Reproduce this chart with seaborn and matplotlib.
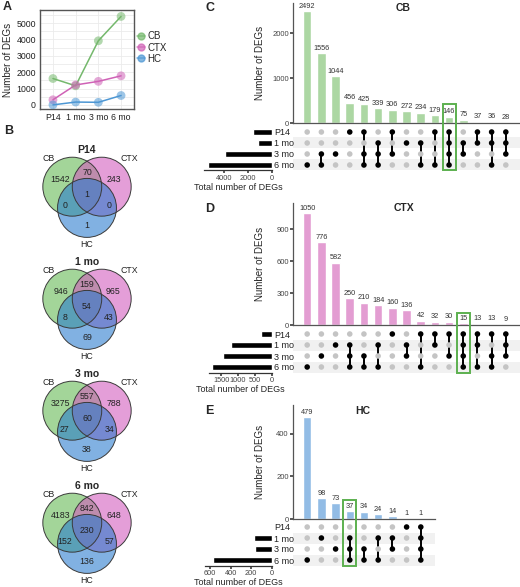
import numpy as np
import pandas as pd
import matplotlib
matplotlib.use("Agg")
import matplotlib.pyplot as plt
import seaborn as sns
from matplotlib.patches import Circle, Rectangle
from matplotlib.lines import Line2D

sns.set_theme(style="white")
plt.rcParams['font.family'] = ['Liberation Sans Narrow', 'Liberation Sans', 'DejaVu Sans']

W, H = 520, 587

# ---- data ----
ages = ["P14", "1 mo", "3 mo", "6 mo"]
regions = ["CB", "CTX", "HC"]
deg_cb = [1613, 1167, 3919, 5407]
deg_ctx = [314, 1221, 1439, 1777]
deg_hc = [2, 174, 159, 575]

# venn regions: CB only, CTX only, HC only, CB&CTX, CB&HC, CTX&HC, all three
venn_titles = ["P14", "1 mo", "3 mo", "6 mo"]
venn_p14 = [1542, 243, 1, 70, 0, 0, 1]
venn_1mo = [946, 965, 69, 159, 8, 43, 54]
venn_3mo = [3275, 788, 38, 557, 27, 34, 60]
venn_6mo = [4183, 648, 136, 842, 152, 57, 230]

# upset intersections (row index: 0=P14, 1=1 mo, 2=3 mo, 3=6 mo)
cb_sizes = [2492, 1556, 1044, 456, 425, 339, 306, 272, 234, 179, 146, 75, 37, 36, 28]
cb_sets = [(3,), (2, 3), (2,), (0,), (0, 2, 3), (1, 2, 3), (0, 2), (1,), (1, 3), (0, 3),
           (0, 1, 2, 3), (1, 2), (0, 1), (0, 1, 3), (0, 1, 2)]
ctx_sizes = [1050, 776, 582, 250, 210, 184, 160, 136, 42, 32, 30, 15, 13, 13, 9]
ctx_sets = [(3,), (2,), (1,), (1, 2, 3), (2, 3), (1, 3), (0,), (1, 2), (0, 3), (0, 1), (0, 2),
            (0, 1, 2, 3), (0, 1, 3), (0, 2, 3), (0, 1, 2)]
hc_sizes = [479, 98, 73, 37, 34, 24, 14, 1, 1]
hc_sets = [(3,), (1,), (2,), (1, 2, 3), (2, 3), (1, 3), (1, 2), (0,), (0, 1, 2, 3)]

line_colors = {"CB": "#74b86c", "CTX": "#cf62b6", "HC": "#4d97d4"}
venn_colors = ["#61b750", "#d258bc", "#267acd"]
bar_colors = {"CB": "#acd7a3", "CTX": "#e39dd2", "HC": "#92bce5"}
box_green = "#5cb04f"

fig = plt.figure(figsize=(W / 100, H / 100), dpi=100)


def axpx(x0, y0, x1, y1):
    return fig.add_axes([x0 / W, 1 - y1 / H, (x1 - x0) / W, (y1 - y0) / H])


def textpx(x, y, s, **kw):
    fig.text(x / W, 1 - y / H, s, **kw)


# ---- panel A ----
df = pd.DataFrame({
    "age": ages * 3,
    "n": deg_cb + deg_ctx + deg_hc,
    "region": ["CB"] * 4 + ["CTX"] * 4 + ["HC"] * 4,
})
axA = axpx(40, 10, 134, 109)
sns.lineplot(data=df, x="age", y="n", hue="region", palette=line_colors, sort=False,
             lw=1.1, legend=False, ax=axA)
sns.scatterplot(data=df, x="age", y="n", hue="region", palette=line_colors, s=40,
                alpha=0.55, edgecolor="none", legend=False, ax=axA, zorder=3)
axA.set_xlim(-0.57, 3.57)
axA.set_ylim(-250, 5800)
axA.set_yticks([0, 1000, 2000, 3000, 4000, 5000])
axA.set_yticks(np.arange(500, 5800, 1000), minor=True)
axA.grid(True, which="both", color="#ebebeb", lw=0.6)
axA.set_axisbelow(True)
axA.tick_params(labelsize=6.3, length=2, color="#333", pad=1, colors="#222")
axA.set_xlabel("")
axA.set_ylabel("Number of DEGs", fontsize=7, labelpad=2)
for sp in axA.spines.values():
    sp.set_color("#555")
    sp.set_linewidth(1)
handles = [Line2D([], [], color=line_colors[r], lw=1.1, marker="o", ms=5, alpha=0.7) for r in regions]
axA.legend(handles, regions, loc="center left", bbox_to_anchor=(0.98, 0.62), frameon=False,
           fontsize=7, handlelength=0.8, handletextpad=0.3, labelspacing=0.12, borderaxespad=0.1)

# ---- panel B: venns ----
centers = [(-0.5, 0.35), (0.5, 0.35), (0.0, -0.37)]
count_pos = [(-0.9, 0.6), (0.9, 0.6), (0.0, -0.95), (0.0, 0.82), (-0.75, -0.3), (0.75, -0.3), (0.0, 0.1)]
venn_cy = [197, 309, 421, 533]
for cy, title, counts in zip(venn_cy, venn_titles, [venn_p14, venn_1mo, venn_3mo, venn_6mo]):
    ax = axpx(34, cy - 56, 140, cy + 56)
    ax.set_xlim(-1.8, 1.8)
    ax.set_ylim(-1.9, 1.9)
    for (cx, cyy), col in zip(centers, venn_colors):
        ax.add_patch(Circle((cx, cyy), 1, fc=col, alpha=0.58, ec="none"))
    for cx, cyy in centers:
        ax.add_patch(Circle((cx, cyy), 1, fill=False, ec="#3a3a3a", lw=0.7))
    for v, (x, y) in zip(counts, count_pos):
        ax.text(x, y, str(v), ha="center", va="center", fontsize=6.3, color="#222")
    ax.text(0, 1.58, title, ha="center", va="center", fontsize=7.5, fontweight="bold")
    ax.text(-1.3, 1.32, "CB", ha="center", va="center", fontsize=6.3, color="#222")
    ax.text(1.45, 1.32, "CTX", ha="center", va="center", fontsize=6.3, color="#222")
    ax.text(0, -1.62, "HC", ha="center", va="center", fontsize=6.3, color="#222")
    ax.axis("off")


# ---- panels C, D, E: upset ----
def upset(sizes, sets, totals, color, box_col, bar_top, zero, x1, ytop, yticks,
          rows_top, rows_bot, ss_left, ss_max, ss_ticks, box_top, title, title_xy):
    n = len(sizes)
    axb = axpx(293, bar_top, x1, zero)
    sns.barplot(x=np.arange(n), y=sizes, color=color, width=0.6, ax=axb, saturation=1)
    axb.set_xlim(-1, n)
    axb.set_ylim(0, ytop)
    axb.set_xticks([])
    axb.set_yticks(yticks)
    axb.tick_params(axis="y", labelsize=5.5, length=2, pad=1, colors="#444", left=True)
    for i, v in enumerate(sizes):
        axb.text(i, v + ytop * 0.012, str(v), ha="center", va="bottom", fontsize=5.3, color="#333")
    for s in ["top", "right"]:
        axb.spines[s].set_visible(False)
    for s in ["left", "bottom"]:
        axb.spines[s].set_color("#555")
        axb.spines[s].set_linewidth(0.9)
    axb.set_xlabel("")
    axb.set_ylabel("Number of DEGs", fontsize=7)
    axb.yaxis.set_label_coords((265 - 293) / (x1 - 293), 0.5)

    # matrix
    axm = axpx(293, rows_top, x1, rows_bot)
    for r in (1, 3):
        axm.axhspan(r - 0.5, r + 0.5, color="#f1f1f1", zorder=0, lw=0)
    cells = pd.DataFrame([(i, r, r in s) for i, s in enumerate(sets) for r in range(4)],
                         columns=["col", "row", "member"])
    sns.scatterplot(data=cells, x="col", y="row", hue="member",
                    palette={True: "black", False: "#c4c4c4"}, s=16, edgecolor="none",
                    legend=False, ax=axm, zorder=3)
    for i, s in enumerate(sets):
        if len(s) > 1:
            axm.plot([i, i], [min(s), max(s)], color="black", lw=1.4, zorder=2)
    axm.set_xlim(-1, n)
    axm.set_ylim(3.5, -0.5)
    axm.axis("off")
    axm.add_patch(Rectangle((box_col - 0.46, box_top), 0.92, 3.5 - box_top, fill=False,
                            ec=box_green, lw=1.4, clip_on=False, zorder=5))

    # set sizes
    axs = axpx(ss_left, rows_top, 271.7, rows_bot)
    sns.barplot(x=totals, y=ages, orient="h", color="black", width=0.55, ax=axs, saturation=1)
    axs.set_xlim(ss_max, 0)
    axs.set_ylim(3.5, -0.5)
    axs.set_xticks(ss_ticks)
    axs.tick_params(axis="x", labelsize=5.3, length=2, pad=1, colors="#444", bottom=True)
    axs.yaxis.tick_right()
    axs.tick_params(axis="y", labelsize=6.5, length=0, pad=2, colors="#222")
    for s in ["top", "right", "left"]:
        axs.spines[s].set_visible(False)
    axs.spines["bottom"].set_color("#333")
    axs.spines["bottom"].set_linewidth(0.9)
    axs.set_ylabel("")
    axs.set_xlabel("Total number of DEGs", fontsize=6.5, labelpad=1)

    textpx(title_xy[0], title_xy[1], title, ha="center", va="center", fontsize=7.5, fontweight="bold")


upset(cb_sizes, cb_sets, deg_cb, bar_colors["CB"], 10, 3, 123.3, 520, 2673, [0, 1000, 2000],
      126.5, 170.5, 204, 5718, [4000, 2000, 0], -2.55, "CB", (403, 8))
upset(ctx_sizes, ctx_sets, deg_ctx, bar_colors["CTX"], 11, 203, 325, 520, 1144, [0, 300, 600, 900],
      328.5, 372.5, 209, 1860, [1500, 1000, 500, 0], -1.91, "CTX", (404, 208))
upset(hc_sizes, hc_sets, deg_hc, bar_colors["HC"], 3, 405, 519, 435, 536, [0, 200, 400],
      521.5, 565.5, 205, 650, [600, 400, 200, 0], -2.45, "HC", (363, 411))

# panel letters
for letter, (x, y) in zip("ABCDE", [(3, 7), (4, 131), (205, 8), (205, 209), (205, 411)]):
    textpx(x, y, letter, ha="left", va="center", fontsize=9, fontweight="bold")

fig.savefig("out.png", dpi=100)
